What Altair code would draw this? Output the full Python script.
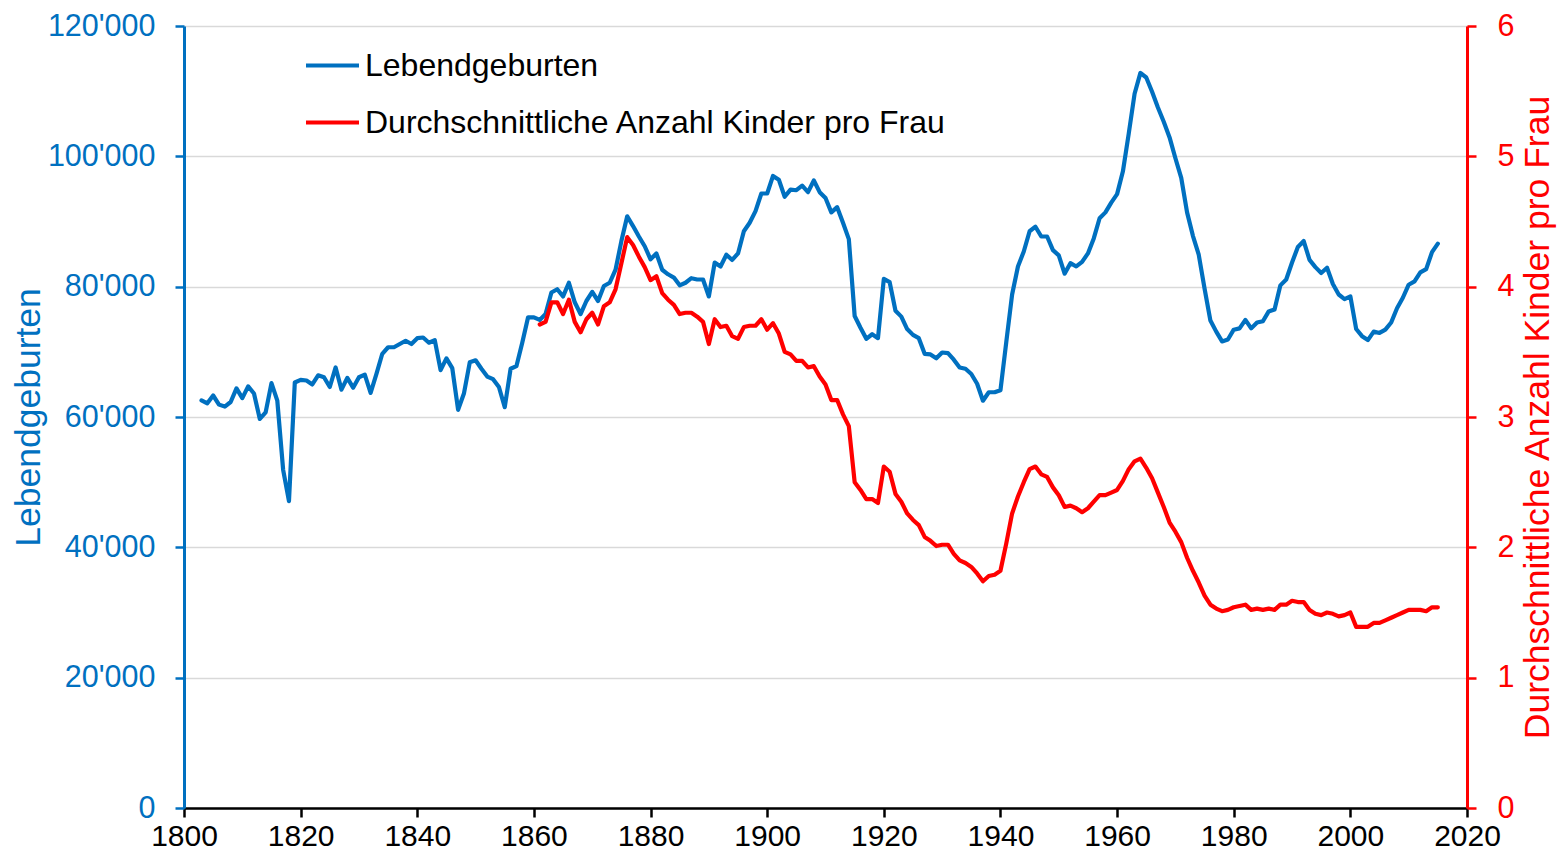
import altair as alt
import pandas as pd

BLUE = "#0070C0"
RED = "#FF0000"
FONT = "Liberation Sans"

S1 = "Lebendgeburten"
S2 = "Durchschnittliche Anzahl Kinder pro Frau"

birth_years = list(range(1803, 2016))
births = [
    62550, 62100, 63300, 61900, 61600, 62300, 64400, 62900, 64700, 63600,  # 1803-1812
    59700, 60700, 65200, 62500, 51900, 47100, 65300, 65700, 65600, 65000,  # 1813-1822
    66400, 66100, 64600, 67600, 64200, 66000, 64500, 66100, 66500, 63700,  # 1823-1832
    66600, 69700, 70700, 70700, 71200, 71700, 71200, 72100, 72200, 71400,  # 1833-1842
    71800, 67200, 69000, 67500, 61100, 63600, 68400, 68700, 67400, 66200,  # 1843-1852
    65800, 64600, 61500, 67400, 67800, 71400, 75300, 75300, 74900, 75800,  # 1853-1862
    79100, 79600, 78500, 80600, 77600, 75800, 77800, 79200, 77800, 80100,  # 1863-1872
    80600, 82600, 87000, 90800, 89300, 87700, 86200, 84200, 85100, 82600,  # 1873-1882
    81900, 81400, 80200, 80600, 81300, 81100, 81100, 78500, 83700, 83100,  # 1883-1892
    84900, 84100, 85100, 88500, 89800, 91600, 94300, 94300, 97000, 96400,  # 1893-1902
    93800, 94900, 94800, 95500, 94500, 96300, 94500, 93600, 91400, 92200,  # 1903-1912
    89800, 87300, 75500, 73700, 72000, 72700, 72100, 81200, 80700, 76300,  # 1913-1922
    75400, 73500, 72600, 72100, 69700, 69600, 69000, 69900, 69800, 68800,  # 1923-1932
    67600, 67400, 66600, 65100, 62500, 63800, 63800, 64100, 71500, 78800,  # 1933-1942
    83100, 85400, 88500, 89200, 87700, 87700, 85600, 84800, 82000, 83600,  # 1943-1952
    83100, 83800, 85100, 87400, 90500, 91400, 92900, 94200, 97700, 103500,  # 1953-1962
    109600, 112800, 112100, 109900, 107500, 105300, 102900, 99700, 96700, 91400,  # 1963-1972
    87800, 84900, 79700, 74800, 73100, 71600, 71900, 73400, 73600, 74900,  # 1973-1982
    73600, 74500, 74700, 76200, 76500, 80200, 81100, 83700, 86100, 87000,  # 1983-1992
    84100, 83000, 82100, 82900, 80400, 78800, 78100, 78500, 73500, 72400,  # 1993-2002
    71800, 73100, 72900, 73400, 74500, 76700, 78300, 80300, 80800, 82200,  # 2003-2012
    82700, 85300, 86600,  # 2013-2015
]

tfr_years = list(range(1861, 2016))
tfr = [
    3.71, 3.73, 3.88, 3.88, 3.79, 3.90, 3.73, 3.65, 3.75, 3.80,  # 1861-1870
    3.71, 3.85, 3.88, 3.98, 4.18, 4.38, 4.32, 4.23, 4.15, 4.05,  # 1871-1880
    4.08, 3.95, 3.90, 3.86, 3.79, 3.80, 3.80, 3.77, 3.73, 3.56,  # 1881-1890
    3.75, 3.69, 3.70, 3.62, 3.60, 3.69, 3.70, 3.70, 3.75, 3.67,  # 1891-1900
    3.72, 3.64, 3.50, 3.48, 3.43, 3.43, 3.38, 3.39, 3.31, 3.25,  # 1901-1910
    3.13, 3.13, 3.02, 2.93, 2.50, 2.44, 2.37, 2.37, 2.34, 2.62,  # 1911-1920
    2.58, 2.41, 2.35, 2.26, 2.21, 2.17, 2.08, 2.05, 2.01, 2.02,  # 1921-1930
    2.02, 1.95, 1.90, 1.88, 1.85, 1.80, 1.74, 1.78, 1.79, 1.82,  # 1931-1940
    2.03, 2.26, 2.39, 2.50, 2.60, 2.62, 2.56, 2.54, 2.46, 2.40,  # 1941-1950
    2.31, 2.32, 2.30, 2.27, 2.30, 2.35, 2.40, 2.40, 2.42, 2.44,  # 1951-1960
    2.51, 2.60, 2.66, 2.68, 2.61, 2.53, 2.42, 2.31, 2.19, 2.12,  # 1961-1970
    2.04, 1.92, 1.82, 1.73, 1.63, 1.56, 1.53, 1.51, 1.52, 1.54,  # 1971-1980
    1.55, 1.56, 1.52, 1.53, 1.52, 1.53, 1.52, 1.56, 1.56, 1.59,  # 1981-1990
    1.58, 1.58, 1.52, 1.49, 1.48, 1.50, 1.49, 1.47, 1.48, 1.50,  # 1991-2000
    1.39, 1.39, 1.39, 1.42, 1.42, 1.44, 1.46, 1.48, 1.50, 1.52,  # 2001-2010
    1.52, 1.52, 1.51, 1.54, 1.54,  # 2011-2015
]

x_ticks = list(range(1800, 2021, 20))
left_ticks = [0, 20000, 40000, 60000, 80000, 100000, 120000]
right_ticks = [0, 1, 2, 3, 4, 5, 6]

df_b = pd.DataFrame({"Jahr": birth_years, "Wert": births, "Reihe": S1})
df_t = pd.DataFrame({"Jahr": tfr_years, "Wert": tfr, "Reihe": S2})

W, H = 1283, 782

x_enc = alt.X(
    "Jahr:Q",
    scale=alt.Scale(domain=[1800, 2020], nice=False, zero=False),
    axis=alt.Axis(
        values=x_ticks, format="d", title=None, grid=False,
        domainColor="black", domainWidth=2.5, tickColor="black", tickWidth=2.5,
        tickSize=9, labelPadding=4, labelColor="black", labelFontSize=30,
        labelFont=FONT, labelFlush=False, labelOverlap=False,
    ),
)

color_enc = alt.Color(
    "Reihe:N",
    scale=alt.Scale(domain=[S1, S2], range=[BLUE, RED]),
    legend=alt.Legend(
        orient="none", legendX=120, legendY=11, title=None, padding=0,
        symbolType="stroke", symbolSize=2809, symbolStrokeWidth=4,
        labelFontSize=32, labelFont=FONT, labelColor="black", labelOffset=4,
        rowPadding=12, labelLimit=0,
    ),
)

blue_line = alt.Chart(df_b).mark_line(
    strokeWidth=4.2, strokeJoin="round", strokeCap="round"
).encode(
    x=x_enc,
    y=alt.Y(
        "Wert:Q",
        scale=alt.Scale(domain=[0, 120000], nice=False, zero=True),
        axis=alt.Axis(
            values=left_ticks,
            labelExpr="replace(format(datum.value, ','), ',', \"'\")",
            title=S1, titleColor=BLUE, titleFont=FONT, titleFontSize=35.5,
            titleFontWeight="normal", titleX=-156, titleY=H / 2,
            titleAlign="center", titleBaseline="middle", titleAngle=270,
            grid=True, gridColor="#D9D9D9", gridWidth=1.5,
            domainColor=BLUE, domainWidth=3, tickColor=BLUE, tickWidth=2.5,
            tickSize=9, labelPadding=20, labelColor=BLUE, labelFontSize=30.5,
            labelFont=FONT, labelOverlap=False,
        ),
    ),
    color=color_enc,
)

red_line = alt.Chart(df_t).mark_line(
    strokeWidth=4.2, strokeJoin="round", strokeCap="round"
).encode(
    x=x_enc,
    y=alt.Y(
        "Wert:Q",
        scale=alt.Scale(domain=[0, 6], nice=False, zero=True),
        axis=alt.Axis(
            orient="right", values=right_ticks, format="d",
            title=S2, titleColor=RED, titleFont=FONT, titleFontSize=35.5,
            titleFontWeight="normal", titleX=70, titleY=H / 2,
            titleAlign="center", titleBaseline="middle", titleAngle=270,
            grid=False, domainColor=RED, domainWidth=3, tickColor=RED,
            tickWidth=2.5, tickSize=9, labelPadding=21, labelColor=RED,
            labelFontSize=30.5, labelFont=FONT, labelOverlap=False,
        ),
    ),
    color=color_enc,
)

chart = alt.layer(blue_line, red_line).resolve_scale(
    y="independent"
).properties(
    width=W, height=H,
    autosize=alt.AutoSizeParams(type="none"),
    padding={"left": 176, "top": 18, "right": 90, "bottom": 44},
).configure_view(stroke=None).configure(font=FONT)

chart.save("out.html", embed_options={"renderer": "svg", "actions": False})
